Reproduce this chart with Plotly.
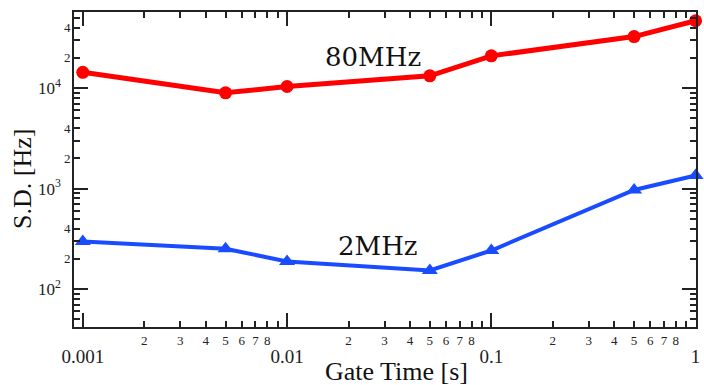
import math
import plotly.graph_objects as go

# ---- data ----
gate_time = [0.001, 0.005, 0.01, 0.05, 0.1, 0.5, 1]
sd_80mhz = [14400, 9000, 10400, 13300, 21000, 32700, 47000]
sd_2mhz = [297, 252, 188, 153, 242, 970, 1350]

x_major_vals = [0.001, 0.01, 0.1, 1]
x_major_text = ["0.001", "0.01", "0.1", "1"]
x_minor_vals = [d * k for d in (0.001, 0.01, 0.1) for k in range(2, 10)]
x_minor_text = [str(k) if k < 9 else " " for d in (0.001, 0.01, 0.1) for k in range(2, 10)]

y_major_vals = [100, 1000, 10000]
y_major_text = ["10<sup>2</sup>", "10<sup>3</sup>", "10<sup>4</sup>"]
y_minor_vals = [d * k for d in (10, 100, 1000, 10000) for k in range(2, 10)]
y_label_vals = [200, 400, 2000, 4000, 20000, 40000]
y_label_text = ["2", "4", "2", "4", "2", "4"]

RED = "#ff0000"
BLUE = "#1a4cff"
AX = "#222222"
SERIF = "Liberation Serif"

fig = go.Figure()
fig.add_trace(go.Scatter(
    x=gate_time, y=sd_80mhz, mode="lines+markers",
    line=dict(color=RED, width=5),
    marker=dict(symbol="circle", size=13, color=RED),
    cliponaxis=False, showlegend=False, hoverinfo="skip"))
fig.add_trace(go.Scatter(
    x=gate_time, y=sd_2mhz, mode="lines+markers",
    line=dict(color=BLUE, width=4),
    marker=dict(symbol="triangle-up", size=14, color=BLUE),
    cliponaxis=False, showlegend=False, hoverinfo="skip"))
# invisible helper traces so the extra tick axes are drawn
for i in (2, 3, 4):
    fig.add_trace(go.Scatter(
        x=[0.01], y=[1000], xaxis=f"x{i}", yaxis=f"y{i}", mode="markers",
        marker=dict(opacity=0), showlegend=False, hoverinfo="skip"))

xr = [-3.043, 0.002]
yr = [1.622, 4.759]

common = dict(type="log", showgrid=False, zeroline=False, tickcolor=AX, tickwidth=1.5,
              ticks="inside", tickmode="array", linecolor=AX, linewidth=2)
xminor = dict(**common, range=xr, tickvals=x_minor_vals, ticktext=x_minor_text, ticklen=6)
xmajor = dict(**common, range=xr, tickvals=x_major_vals, ticktext=x_major_text, ticklen=14)
yminor = dict(**common, range=yr, tickvals=y_minor_vals, ticklen=6)
ymajor = dict(**common, range=yr, tickvals=y_major_vals, ticktext=y_major_text, ticklen=14)

annotations = [
    dict(text=t, xref="paper", yref="y", x=-0.002, y=math.log10(v), showarrow=False,
         xanchor="right", yanchor="middle", font=dict(family=SERIF, size=13, color=AX))
    for v, t in zip(y_label_vals, y_label_text)
]
annotations += [
    dict(text="80MHz", xref="paper", yref="paper", x=0.480, y=0.856, showarrow=False,
         xanchor="center", yanchor="middle",
         font=dict(family="DejaVu Serif", size=26, color="#111")),
    dict(text="2MHz", xref="paper", yref="paper", x=0.489, y=0.257, showarrow=False,
         xanchor="center", yanchor="middle",
         font=dict(family="DejaVu Serif", size=26, color="#111")),
    dict(text="Gate Time [s]", xref="paper", yref="paper", x=0.519, y=-0.14, showarrow=False,
         xanchor="center", yanchor="middle",
         font=dict(family=SERIF, size=26, color="#111")),
    dict(text="S.D. [Hz]", xref="paper", yref="paper", x=-0.082, y=0.47, showarrow=False,
         xanchor="center", yanchor="middle",
         textangle=-90, font=dict(family=SERIF, size=26, color="#111")),
]

fig.update_layout(
    width=704, height=385,
    margin=dict(l=74, r=4, t=12, b=58),
    plot_bgcolor="white", paper_bgcolor="white",
    xaxis=dict(**xminor, anchor="y", side="bottom", showline=True,
               tickfont=dict(family=SERIF, size=13, color=AX)),
    xaxis2=dict(**xmajor, overlaying="x", anchor="y2", side="bottom", showline=False,
                tickfont=dict(family=SERIF, size=19, color=AX), ticklabelstandoff=16,
                ticklabeloverflow="allow"),
    xaxis3=dict(**xminor, overlaying="x", anchor="y3", side="top", showline=True, showticklabels=False),
    xaxis4=dict(**xmajor, overlaying="x", anchor="y4", side="top", showline=False, showticklabels=False),
    yaxis=dict(**yminor, anchor="x", side="left", showline=True, showticklabels=False),
    yaxis2=dict(**ymajor, overlaying="y", anchor="x2", side="left", showline=False,
                tickfont=dict(family=SERIF, size=17, color=AX), ticklabelstandoff=12),
    yaxis3=dict(**yminor, overlaying="y", anchor="x3", side="right", showline=True, showticklabels=False),
    yaxis4=dict(**ymajor, overlaying="y", anchor="x4", side="right", showline=False, showticklabels=False),
    annotations=annotations,
)

fig.write_html("out.html")
